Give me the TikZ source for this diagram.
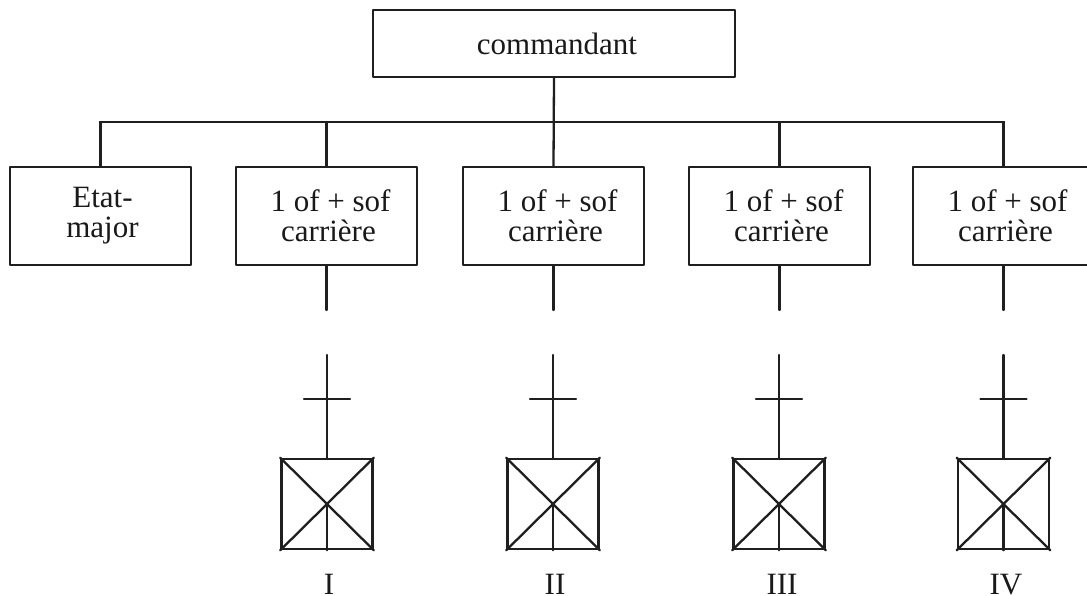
\documentclass[tikz,border=0pt]{standalone}
\usepackage{fontspec}
\setmainfont{Liberation Serif}
\begin{document}
\begin{tikzpicture}[x=1pt,y=-1pt,
 every node/.style={font=\fontsize{31}{30}\selectfont,align=center,text=black!90},
 ln/.style={line width=2.3pt,black!88,line cap=round},
 boxn/.style={draw=black!88,line width=2.3pt,line join=round,fill=white,minimum width=181pt,minimum height=98pt,inner sep=0pt},
 unitbox/.style={draw=black!88,line width=2.5pt,minimum width=91pt,minimum height=90pt,inner sep=0pt},
 rank/.style={inner sep=0pt,anchor=base}]
\useasboundingbox (0,0) rectangle (1087,596);
\fill[white] (0,0) rectangle (1087,596);
\node[boxn,minimum width=362pt,minimum height=67pt] (cmd) at (554,43.5) {\hspace*{6pt}commandant};
\node[boxn] (em) at (100.5,216) {\hspace*{4pt}Etat-\\\hspace*{4pt}major};
\foreach \n/\x in {a/326.5,b/553.5,c/779.5,d/1003.5}{
 \node[boxn] (\n) at (\x,216) {\hspace*{8pt}1 of + sof\\\hspace*{4pt}carrière};
}
\coordinate (busl) at (em.north |- 0,122);
\coordinate (busr) at (d.north |- 0,122);
\draw[ln] (em.north) -- (busl) -- (busr) -- (d.north);
\draw[ln] (cmd.south) -- (b.north);
\draw[ln] (a.north) -- (a.north |- busl);
\draw[ln] (c.north) -- (c.north |- busl);
\foreach \n/\lab/\x/\lx in {a/I/327/329,b/II/553/555,c/III/779/782,d/IV/1003.5/1006}{
 \coordinate (\n stub) at (\n.south |- 0,310);
 \draw[ln] (\n.south) -- (\n stub);
 \node[unitbox] (\n u) at (\x,504) {};
 \coordinate (\n top) at (\n u.north |- 0,355);
 \coordinate (\n crossl) at ([xshift=-23pt]\n u.north |- 0,399);
 \coordinate (\n crossr) at ([xshift=23pt]\n u.north |- 0,399);
 \draw[ln] (\n top) -- (\n u.north);
 \draw[ln] (\n crossl) -- (\n crossr);
 \draw[ln] (\n u.north west) -- (\n u.south east);
 \draw[ln] (\n u.south west) -- (\n u.north east);
 \draw[ln] (\n u.center) -- (\n u.south);
 \node[rank] (\n lab) at (\lx,594) {\lab};
}
\end{tikzpicture}
\end{document}
